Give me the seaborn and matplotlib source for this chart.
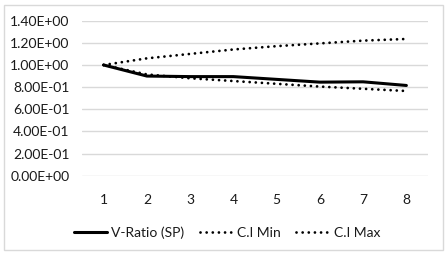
import seaborn as sns
import pandas as pd
import matplotlib.pyplot as plt
from matplotlib.patches import Rectangle
from matplotlib.lines import Line2D

# data
steps = [1, 2, 3, 4, 5, 6, 7, 8]
v_ratio = [1.00, 0.90, 0.895, 0.895, 0.87, 0.845, 0.848, 0.815]
ci_min = [1.00, 0.915, 0.88, 0.855, 0.83, 0.805, 0.785, 0.765]
ci_max = [1.00, 1.06, 1.10, 1.14, 1.17, 1.195, 1.22, 1.235]
yticks = [0.0, 0.2, 0.4, 0.6, 0.8, 1.0, 1.2, 1.4]

df = pd.DataFrame({'step': steps, 'V-Ratio (SP)': v_ratio,
                   'C.I Min': ci_min, 'C.I Max': ci_max})
long = df.melt(id_vars='step', var_name='series', value_name='value')

sns.set_style('white')
plt.rcParams['font.family'] = ['Lato', 'DejaVu Sans']

dot = (0.01, 2.2)

fig = plt.figure(figsize=(4.48, 2.56), dpi=100)
ax = fig.add_axes([82/448, 1-175.7/256, 346/448, 155/256])

# outer chart border
fig.patches.append(Rectangle((4/448, 1-250/256), 439/448, 245/256,
                             transform=fig.transFigure, fill=False,
                             edgecolor='#d9d9d9', linewidth=1))

sns.lineplot(data=long, x='step', y='value', hue='series', style='series',
             palette=['black', 'black', 'black'],
             dashes={'V-Ratio (SP)': '', 'C.I Min': dot, 'C.I Max': dot},
             linewidth=2.0, ax=ax, legend=False)
for ln in ax.lines:
    ln.set_dash_capstyle('round')
ax.lines[0].set_linewidth(2.2)

ax.set_xlim(0.5, 8.5)
ax.set_ylim(0, 1.4)
ax.set_yticks(yticks)
ax.set_yticklabels(['%.2E' % v for v in yticks])
ax.set_xticks(steps)
ax.grid(axis='y', color='#d9d9d9', linewidth=1)
ax.set_axisbelow(True)
for s in ax.spines.values():
    s.set_visible(False)
ax.tick_params(axis='both', length=0, labelsize=10, colors='#1a1a1a')
ax.tick_params(axis='y', pad=9)
ax.tick_params(axis='x', pad=13)
ax.set_xlabel('')
ax.set_ylabel('')

handles = [Line2D([], [], color='black', linewidth=2.2),
           Line2D([], [], color='black', linewidth=2.0, dashes=dot, dash_capstyle='round'),
           Line2D([], [], color='black', linewidth=2.0, dashes=dot, dash_capstyle='round')]
fig.legend(handles, ['V-Ratio (SP)', 'C.I Min', 'C.I Max'], loc='center',
           bbox_to_anchor=(227/448, 1-233/256), ncol=3, frameon=False,
           fontsize=10, handlelength=2.4, handletextpad=0.3, columnspacing=1.1,
           labelcolor='#1a1a1a')

fig.savefig('out.png', dpi=100)
